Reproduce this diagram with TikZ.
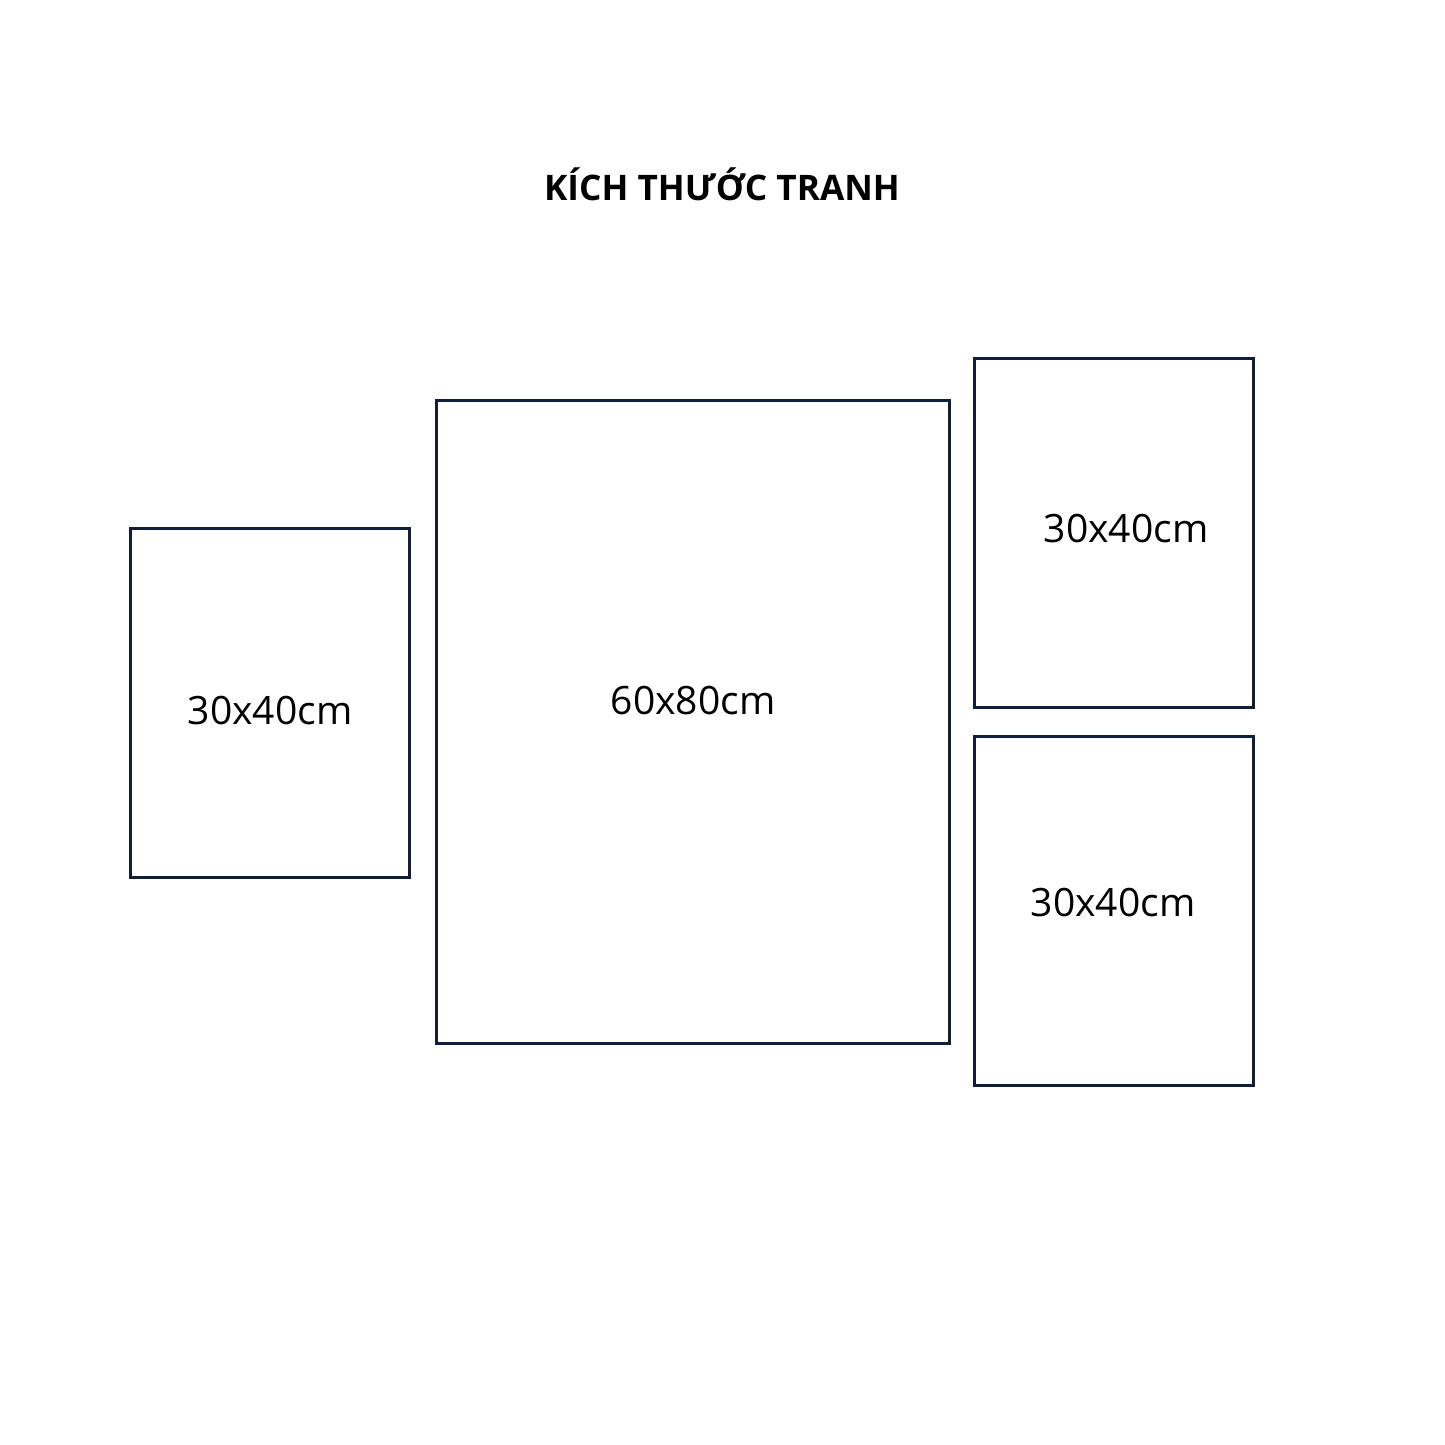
\documentclass[tikz,border=0pt]{standalone}
\usepackage{fontspec}
\setmainfont{Open Sans}
\usepackage{tikz}
\usetikzlibrary{positioning}
\usepackage{xcolor}
\definecolor{framenavy}{RGB}{16,30,58}
\tikzset{
    framebox/.style={
        rectangle,
        draw=framenavy,
        line width=0.85pt,
        fill=white,
        inner sep=0pt
    },
    smallframe/.style={
        framebox,
        minimum width=2.78cm,
        minimum height=3.48cm
    },
    bigframe/.style={
        framebox,
        minimum width=5.12cm,
        minimum height=6.42cm
    },
    sizelabel/.style={
        font=\fontsize{11.1}{13}\selectfont,
        text=black
    }
}

\begin{document}
\begin{tikzpicture}[x=0.01cm,y=-0.01cm]
    \useasboundingbox[fill=white] (0,0) rectangle (1445,1445);

    % Title
    \node[font=\fontsize{10}{12}\selectfont\bfseries] (title) at (722,184) {KÍCH THƯỚC TRANH};

    % Frames
    \node[smallframe] (left) at (270,703) {};
    \node[bigframe] (main) at (693,722) {};
    \node[smallframe] (righttop) at (1114,533) {};
    \node[smallframe] (rightbot) at (1114,911) {};

    % Size labels
    \node[sizelabel] (leftlbl) at (270,711) {30x40cm};
    \node[sizelabel] (mainlbl) at (693,701) {60x80cm};
    \node[sizelabel] (righttoplbl) at (1126,529) {30x40cm};
    \node[sizelabel] (rightbotlbl) at (1113,903) {30x40cm};
\end{tikzpicture}
\end{document}
